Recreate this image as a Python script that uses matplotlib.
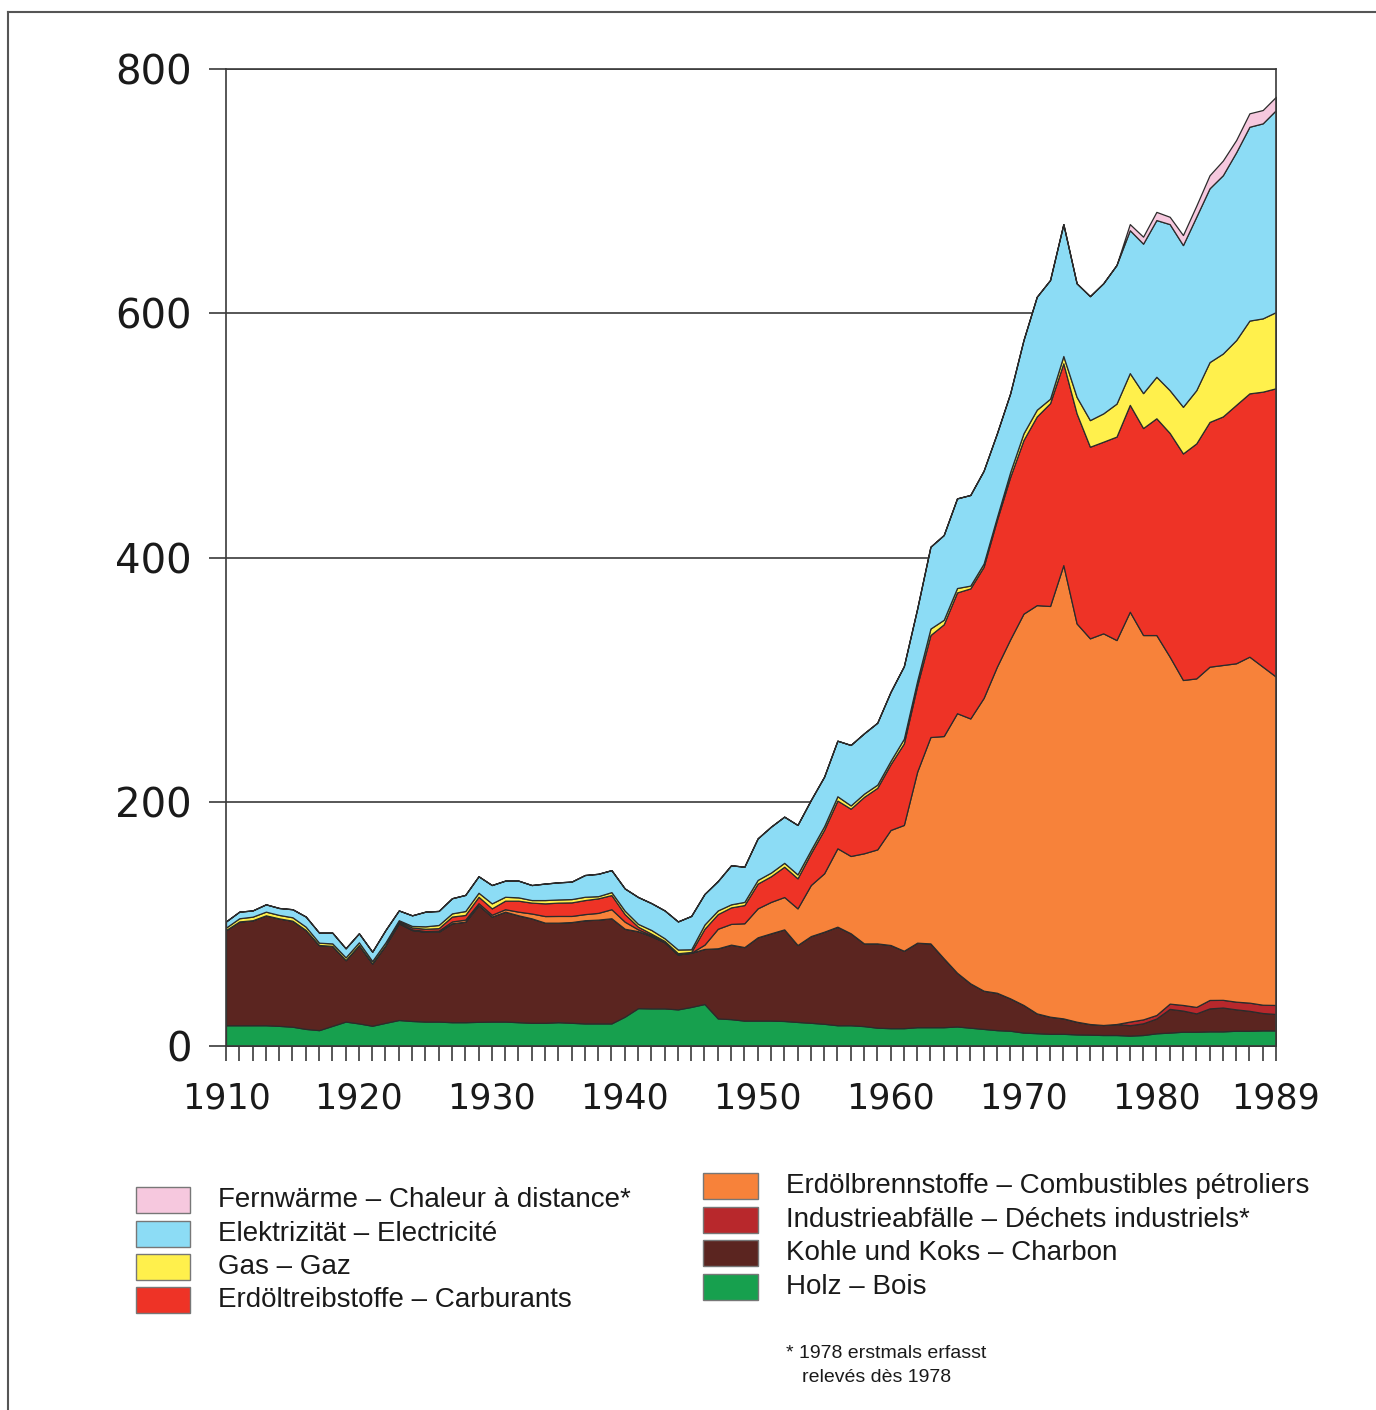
import numpy as np
import matplotlib
matplotlib.use('Agg')
import matplotlib.pyplot as plt
from matplotlib.patches import Rectangle
from matplotlib.lines import Line2D

# Endenergieverbrauch nach Energieträgern, 1910-1989
years = np.arange(1910, 1990)

holz = [17, 17, 17, 17, 16.5, 15.8, 14, 13, 16.5, 20,
        18.5, 16.6, 19, 21.3, 20.5, 20, 20, 19.5, 19.5, 19.8,
        20, 20, 19.5, 19, 19, 19.5, 19, 18.5, 18.5, 18.5,
        24, 31, 30.8, 30.8, 30, 32, 34.4, 22.6, 22, 20.8,
        20.8, 20.8, 20.5, 19.7, 19, 18.2, 17, 17, 16.3, 15,
        14.6, 14.6, 15.4, 15.4, 15.4, 16, 15, 14, 13, 12.5,
        11, 10.5, 10, 10, 9.5, 9.3, 9, 9, 8.5, 9,
        10.4, 11, 11.7, 11.7, 12, 12, 12.5, 12.5, 12.8, 12.8]

kohle = [78, 85, 86, 90, 88, 86.8, 81, 69.7, 65.5, 50.4,
         64.2, 51.1, 63.7, 79.2, 74.5, 73.6, 73.6, 81, 82.3, 95.6,
         86, 90, 87.5, 85.5, 82, 81.5, 82.5, 84.5, 85, 86.1,
         72, 63, 59.2, 54.2, 45, 44.4, 45.1, 57.4, 61, 60.2,
         68.2, 71.5, 75, 63, 71, 75.4, 80.7, 75.3, 67.7, 69,
         68.1, 63.4, 69.2, 68.6, 56.4, 44, 36.3, 31.3, 30.6, 26.5,
         22.6, 16.2, 14, 12.6, 10.4, 8.7, 8.2, 9, 8.5, 9.6,
         12.1, 19.4, 17.3, 15, 18.8, 19.5, 17.5, 16.3, 14.2, 13.4]

# erst ab 1978 erfasst
industrie_ab_1978 = [3, 3.2, 2.9, 4.3, 4.6, 5.3, 6.9, 6.3, 6.3, 6.7, 6.8, 7.4]

brennstoffe = [0, 0, 0, 0, 0, 0, 0, 0, 0, 0,
               0, 0, 0, 0.5, 0.5, 0.6, 0.9, 1.5, 1.7, 1.6,
               1.5, 2, 3, 4, 5.4, 5.5, 5, 5, 5.5, 7.4,
               5.8, 1.5, 0.8, 0, 0, 0, 3.5, 16, 17, 19.5,
               23.7, 25.7, 26.5, 30, 41.8, 47.8, 64.2, 63.3, 73.8, 77,
               94.2, 103, 140, 169, 182, 212.5, 216.9, 239.7, 267, 294,
               320.4, 334.3, 336.3, 371.2, 326.1, 315.8, 320.7, 314.4, 335.6, 314.7,
               311.1, 284.1, 266.1, 269, 272.9, 274.2, 277.1, 283.3, 276.8, 268.8]

treibstoffe = [0, 0, 0, 0, 0, 0, 0, 0, 0, 0,
               0, 0, 0, 1, 1.5, 1.8, 2, 4, 3.8, 5.2,
               5.2, 7, 9, 8.9, 10.4, 10.9, 11.1, 11.5, 11.9, 11.6,
               6.2, 2.2, 1.2, 1, 1, 0.6, 13, 12, 13.5, 14.9,
               20.3, 21, 24.8, 24.6, 26, 35.6, 39.1, 38.7, 46.2, 50.4,
               53.9, 66.8, 70.4, 83.5, 91.5, 98.9, 106.5, 107.4, 120.1, 133,
               142.2, 154.5, 166.1, 165.2, 172, 156.9, 156.9, 166.6, 169.4, 169.5,
               177.5, 183.2, 185.5, 192.4, 200.4, 203.5, 211.6, 215.6, 225.2, 236.2]

gas = [2, 2.6, 2.9, 3, 2.8, 2.8, 2.7, 1.9, 2, 2.2,
       2.2, 1.9, 2.2, 1, 1.3, 2, 2.6, 2.6, 3.2, 3.3,
       4.1, 3.2, 2.7, 2.1, 2.7, 2.6, 2.7, 2.7, 1.8, 2.4,
       2.8, 2.3, 3, 2.2, 3, 2.2, 3.5, 3, 2.5, 2.6,
       3, 3, 3.2, 3.2, 2.7, 3, 3.5, 2.7, 2.6, 2.6,
       2.7, 3.8, 4, 5.3, 3.7, 3.6, 2.3, 2.6, 2.3, 4,
       5.5, 5.5, 3.6, 6, 13.5, 21.8, 23.2, 27, 26, 28.6,
       34, 35, 38.2, 43.6, 49, 51.5, 53, 59.6, 60, 62.4]

elektrizitaet = [5, 5.4, 5.1, 6, 5.7, 6.6, 8.3, 8.2, 8.8, 7.4,
                 7.4, 7.6, 10.1, 8, 8.7, 12, 11.5, 12.4, 13.2, 13.5,
                 15, 13.2, 13.7, 12.3, 13.5, 14, 14.3, 17.8, 18.3, 18,
                 18.2, 22, 22, 22.8, 23, 27.3, 25, 24, 32, 28.8,
                 34, 37.6, 37.8, 40.5, 40.9, 40.5, 45.5, 49.5, 49.4, 50.7,
                 56.5, 59.4, 59, 67, 69.4, 73.4, 74.2, 76, 68.6, 64.4,
                 76.3, 92.5, 97.2, 108, 93, 101.5, 106.5, 113.5, 117, 122.4,
                 128.3, 136, 132.4, 142, 142.3, 146, 153.8, 158.7, 159.7, 165.4]

# erst ab 1978 erfasst
fernwaerme_ab_1978 = [5, 5.7, 6.7, 6, 8.2, 9, 10.7, 12, 10, 11, 10.9, 10.9]

labels = ["Holz – Bois",
          "Kohle und Koks – Charbon",
          "Industrieabfälle – Déchets industriels*",
          "Erdölbrennstoffe – Combustibles pétroliers",
          "Erdöltreibstoffe – Carburants",
          "Gas – Gaz",
          "Elektrizität – Electricité",
          "Fernwärme – Chaleur à distance*"]
colors = ['#17a04e', '#5b2520', '#b8282c', '#f7823a',
          '#ee3326', '#fff04c', '#8cdcf5', '#f6c8de']

W, H = 1376, 1410


def fx(px):
    return px / W


def fy(py):
    return 1 - py / H


# years before 1978: not recorded -> 0
n_missing = len(years) - len(industrie_ab_1978)
industrie = np.concatenate([np.zeros(n_missing), industrie_ab_1978])
fernwaerme = np.concatenate([np.zeros(n_missing), fernwaerme_ab_1978])

layers = [holz, kohle, industrie, brennstoffe, treibstoffe, gas,
          elektrizitaet, fernwaerme]

fig = plt.figure(figsize=(W / 100, H / 100), dpi=100, facecolor='white')
ax = fig.add_axes([fx(226), fy(1046), fx(1276) - fx(226), fy(69) - fy(1046)])

ax.stackplot(years, *layers, colors=colors, edgecolor='#2b2b2b', linewidth=0.9)

line_col = '#3a3a3a'
ax.set_xlim(1910, 1989)
ax.set_ylim(0, 800)
ax.set_yticks([0, 200, 400, 600, 800])
ax.yaxis.grid(True, color=line_col, linewidth=1.2)
ax.set_axisbelow(True)
ax.set_xticks([1910, 1920, 1930, 1940, 1950, 1960, 1970, 1980, 1989])
ax.set_xticks(years, minor=True)

ax.tick_params(axis='y', length=12.5, width=1.2, color=line_col, pad=12,
               labelsize=29, labelcolor='#1a1a1a')
ax.tick_params(axis='x', which='both', length=10.5, width=1.2, color=line_col,
               pad=15, labelsize=25, labelcolor='#1a1a1a')
for s in ax.spines.values():
    s.set_color(line_col)
    s.set_linewidth(1.2)

# Legende
left_col = [(7, 1200), (6, 1234), (5, 1267), (4, 1300)]
right_col = [(3, 1186), (2, 1220), (1, 1253), (0, 1287)]
for items, bx, bw, tx in [(left_col, 136, 54, 218), (right_col, 703, 55, 786)]:
    for idx, cy in items:
        fig.add_artist(Rectangle((fx(bx), fy(cy + 13)), bw / W, 26 / H,
                                 facecolor=colors[idx], edgecolor='#777777',
                                 linewidth=1.0, transform=fig.transFigure))
        fig.text(fx(tx), fy(cy), labels[idx], fontsize=20, va='center', ha='left',
                 family='Liberation Sans', color='#1a1a1a')

fig.text(fx(786), fy(1353), "* 1978 erstmals erfasst", fontsize=14,
         va='center', ha='left', family='Liberation Sans', color='#1a1a1a')
fig.text(fx(802), fy(1377), "relevés dès 1978", fontsize=14,
         va='center', ha='left', family='Liberation Sans', color='#1a1a1a')

# Seitenrahmen
fig.add_artist(Line2D([fx(8), 1], [fy(12), fy(12)], color='#555555', linewidth=1.5,
                      transform=fig.transFigure))
fig.add_artist(Line2D([fx(8), fx(8)], [fy(12), 0], color='#555555', linewidth=1.5,
                      transform=fig.transFigure))

fig.savefig('out.png', dpi=100, facecolor='white')
